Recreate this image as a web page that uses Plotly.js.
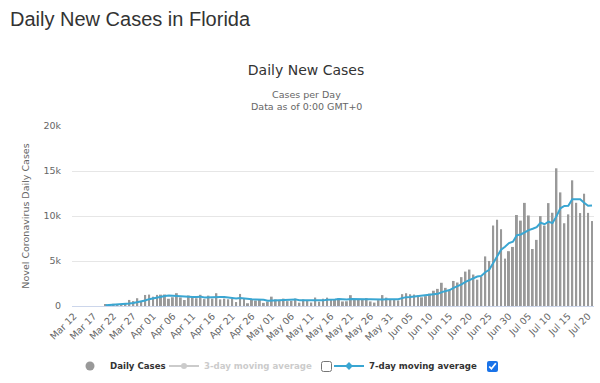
<!DOCTYPE html>
<html><head><meta charset="utf-8">
<script src="https://cdn.plot.ly/plotly-3.0.1.min.js"></script>
<style>
html,body{margin:0;padding:0;background:#fff;}
#wrap{position:relative;width:600px;height:383px;overflow:hidden;}
#chart{position:absolute;left:0;top:0;width:600px;height:383px;}
#pagetitle{position:absolute;left:10px;top:8px;font-family:"Liberation Sans",Arial,sans-serif;font-size:20px;color:#333;white-space:nowrap;line-height:normal;}
.cb{position:absolute;margin:0;width:11px;height:11px;}
</style></head><body>
<div id="wrap">
<div id="chart"></div>
<div id="pagetitle">Daily New Cases in Florida</div>
<input type="checkbox" class="cb" style="left:321px;top:361px">
<input type="checkbox" class="cb" checked style="left:487px;top:361px;accent-color:#1a73e8">
</div>
<script>
// ---- data ----
const startDate = '2020-03-12';
const dailyCases = [
 null,null,null,null,null,null,null,null,173,200,
 241,223,185,270,673,545,863,483,1227,1268,
 1032,1235,1260,1277,805,974,1423,951,666,1167,
 963,861,1246,766,1152,821,1419,733,822,745,
 810,440,1339,885,306,689,610,708,347,497,
 1038,735,615,819,542,563,826,371,735,662,
 386,941,479,808,928,673,777,854,502,527,
 1204,776,676,740,879,509,379,651,1212,927,
 739,667,617,1317,1419,1305,1270,1180,966,1096,
 1371,1698,1902,2581,2016,1758,2783,2610,3207,3822,
 4049,3494,2926,3286,5511,5004,8942,9585,8530,5266,
 6093,6563,10109,9488,11458,10059,6336,7347,9989,8935,
 11433,10360,15300,12624,9194,10181,13965,11466,10328,12478,
 10347,9440
];
const movingAvg7 = [
 null,null,null,null,null,null,null,null,
 73,98,129,155,175,195,281,334,429,463,
 607,761,870,950,1053,1112,1158,1122,1144,1132,
 1051,1038,993,1001,1040,946,974,997,1033,1000,
 994,923,929,827,901,825,764,745,726,711,
 698,577,599,661,650,680,656,687,734,639,
 639,645,584,641,629,626,706,697,713,780,
 717,724,781,759,759,754,758,759,738,659,
 721,757,757,726,742,876,985,999,1048,1111,
 1153,1222,1230,1269,1355,1542,1661,1775,2016,2193,
 2408,2682,2892,3103,3270,3342,3756,4013,4745,5535,
 6255,6589,6990,7140,7870,7948,8215,8434,8587,8766,
 9255,9087,9365,9208,9957,10855,11119,11147,11865,11870,
 11865,11462,11137,11172
];
const yTickVals = [0,5000,10000,15000,20000];
const yTickText = ['0','5k','10k','15k','20k'];

// category dates (one per day from startDate)
const dates = [];
{
  const d0 = new Date(startDate + 'T00:00:00Z');
  for (let i = 0; i < dailyCases.length; i++) {
    const d = new Date(d0.getTime() + i * 86400000);
    dates.push(d.toISOString().slice(0,10));
  }
}

const FONT = 'DejaVu Sans, Verdana, sans-serif';
const BLUE = '#3aa6d2';
const GREY = '#999999';

const traces = [
  {type:'bar', name:'Daily Cases', x:dates, y:dailyCases, marker:{color:GREY}, showlegend:false, hoverinfo:'x+y'},
  {type:'scatter', mode:'lines', name:'7-day moving average', x:dates, y:movingAvg7,
   line:{color:BLUE, width:2}, showlegend:false, connectgaps:false},
  // legend entries
  {type:'scatter', mode:'markers', name:'Daily Cases', x:[null], y:[null],
   marker:{color:GREY, size:9, symbol:'circle'}, legend:'legend', showlegend:true},
  {type:'scatter', mode:'lines+markers', name:'3-day moving average', x:[null], y:[null],
   line:{color:'#999', width:2}, marker:{color:'#999', size:6}, visible:'legendonly', legend:'legend2', showlegend:true},
  {type:'scatter', mode:'lines+markers', name:'7-day moving average', x:[null], y:[null],
   line:{color:BLUE, width:2}, marker:{color:BLUE, size:6, symbol:'diamond'}, legend:'legend3', showlegend:true}
];

const legendBase = {orientation:'h', xref:'container', yref:'container', xanchor:'left', yanchor:'middle',
  y: 1 - 366/383, bgcolor:'rgba(0,0,0,0)', borderwidth:0,
  font:{family:FONT, size:8.6, color:'#333', weight:'bold'}, itemclick:false, itemdoubleclick:false};

const layout = {
  width:600, height:383,
  margin:{l:72, r:6, t:126, b:77},
  paper_bgcolor:'#fff', plot_bgcolor:'#fff',
  font:{family:FONT, color:'#666'},
  showlegend:true,
  bargap:0.5,
  title:{text:'Daily New Cases', font:{family:FONT, size:14, color:'#333'},
    xref:'container', yref:'container', x:306/600, xanchor:'center', y:1-70/383, yanchor:'middle'},
  annotations:[
    {text:'Cases per Day', xref:'paper', yref:'paper', x:(306-72)/522, y:(306-95)/180, xanchor:'center', yanchor:'middle',
     showarrow:false, font:{family:FONT, size:9.5, color:'#666'}},
    {text:'Data as of 0:00 GMT+0', xref:'paper', yref:'paper', x:(306-72)/522, y:(306-107)/180, xanchor:'center', yanchor:'middle',
     showarrow:false, font:{family:FONT, size:9.5, color:'#666'}}
  ],
  xaxis:{type:'date', range:['2020-03-11 12:00','2020-07-21 12:00'],
    tick0:startDate, dtick:5*86400000, tickformat:'%b %d', tickangle:-45,
    tickfont:{family:FONT, size:9.5, color:'#666'},
    showgrid:false, showline:true, linecolor:'#ccd6eb', linewidth:1, ticks:'', zeroline:false, fixedrange:true},
  yaxis:{range:[0,20000], tickvals:yTickVals, ticktext:yTickText,
    gridcolor:'#e6e6e6', gridwidth:1, zeroline:false, showline:false, ticks:'',
    tickfont:{family:FONT, size:9.5, color:'#666'}, ticklabelstandoff:10,
    title:{text:'Novel Coronavirus Daily Cases', font:{family:FONT, size:9.5, color:'#666'}, standoff:12},
    fixedrange:true},
  legend:Object.assign({}, legendBase, {x:70/600}),
  legend2:Object.assign({}, legendBase, {x:164/600, font:{family:FONT, size:8.6, color:'#999', weight:'bold'}}),
  legend3:Object.assign({}, legendBase, {x:329/600})
};

Plotly.newPlot('chart', traces, layout, {displayModeBar:false, staticPlot:false, responsive:false});
</script>
</body></html>
